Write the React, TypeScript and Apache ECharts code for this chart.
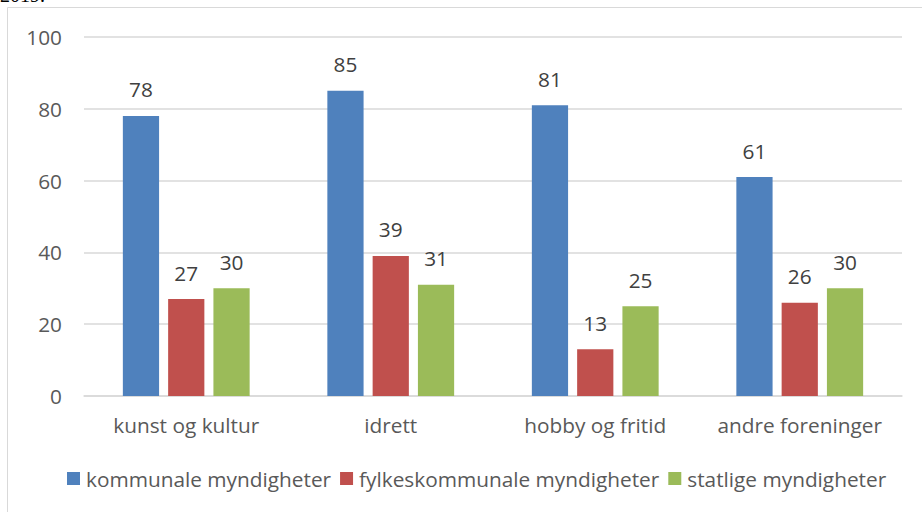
import React, { useEffect, useRef } from "react";
import * as echarts from "echarts";

const categories = ["kunst og kultur", "idrett", "hobby og fritid", "andre foreninger"];
const seriesNames = ["kommunale myndigheter", "fylkeskommunale myndigheter", "statlige myndigheter"];
const kommunale = [78, 85, 81, 61];
const fylkeskommunale = [27, 39, 13, 26];
const statlige = [30, 31, 25, 30];
const yTicks = { min: 0, max: 100, interval: 20 };

const colors = ["#4F81BD", "#C0504D", "#9BBB59"];
const FONT = "'Open Sans', sans-serif";
const FS = 20.8;

export default function App() {
  const ref = useRef<HTMLDivElement>(null);
  useEffect(() => {
    if (!ref.current) return;
    const chart = echarts.init(ref.current, undefined, { renderer: "svg" });
    const values = [kommunale, fylkeskommunale, statlige];
    chart.setOption({
      animation: false,
      textStyle: { fontFamily: FONT },
      color: colors,
      graphic: [
        {
          type: "rect",
          shape: { x: 7.5, y: 7.5, width: 930, height: 520 },
          style: { fill: "none", stroke: "#D9D9D9", lineWidth: 1 },
          silent: true,
        },
        {
          type: "text",
          x: 0,
          y: -15,
          style: { text: "2019.", font: "20px 'Liberation Serif', serif", fill: "#000" },
          silent: true,
        },
      ],
      grid: { left: 84, right: 20, top: 37, bottom: 116, containLabel: false },
      legend: {
        data: seriesNames,
        left: 62,
        top: 463,
        itemWidth: 13,
        itemHeight: 13,
        itemGap: 9,
        icon: "rect",
        textStyle: { fontFamily: FONT, fontSize: FS, color: "#595959", padding: [0, 0, 0, 1] },
      },
      xAxis: {
        type: "category",
        data: categories,
        axisLine: { lineStyle: { color: "#D9D9D9", width: 1.5 } },
        axisTick: { show: false },
        axisLabel: { interval: 0, hideOverlap: false, fontFamily: FONT, fontSize: FS, color: "#595959", margin: 18 },
      },
      yAxis: {
        type: "value",
        min: yTicks.min,
        max: yTicks.max,
        interval: yTicks.interval,
        axisLine: { show: false },
        axisTick: { show: false },
        splitLine: { lineStyle: { color: "#D9D9D9", width: 1.5 } },
        axisLabel: { fontFamily: FONT, fontSize: FS, color: "#595959", margin: 22 },
      },
      series: seriesNames.map((name, i) => ({
        name,
        type: "bar",
        data: values[i],
        barGap: "25%",
        barCategoryGap: "38%",
        itemStyle: { color: colors[i] },
        label: {
          show: true,
          position: "top",
          distance: 16,
          fontFamily: FONT,
          fontSize: FS,
          color: "#404040",
        },
      })),
    });
    return () => chart.dispose();
  }, []);
  return (
    <div
      ref={ref}
      style={{ position: "absolute", left: 0, top: 0, width: 922, height: 512, background: "#fff" }}
    />
  );
}
